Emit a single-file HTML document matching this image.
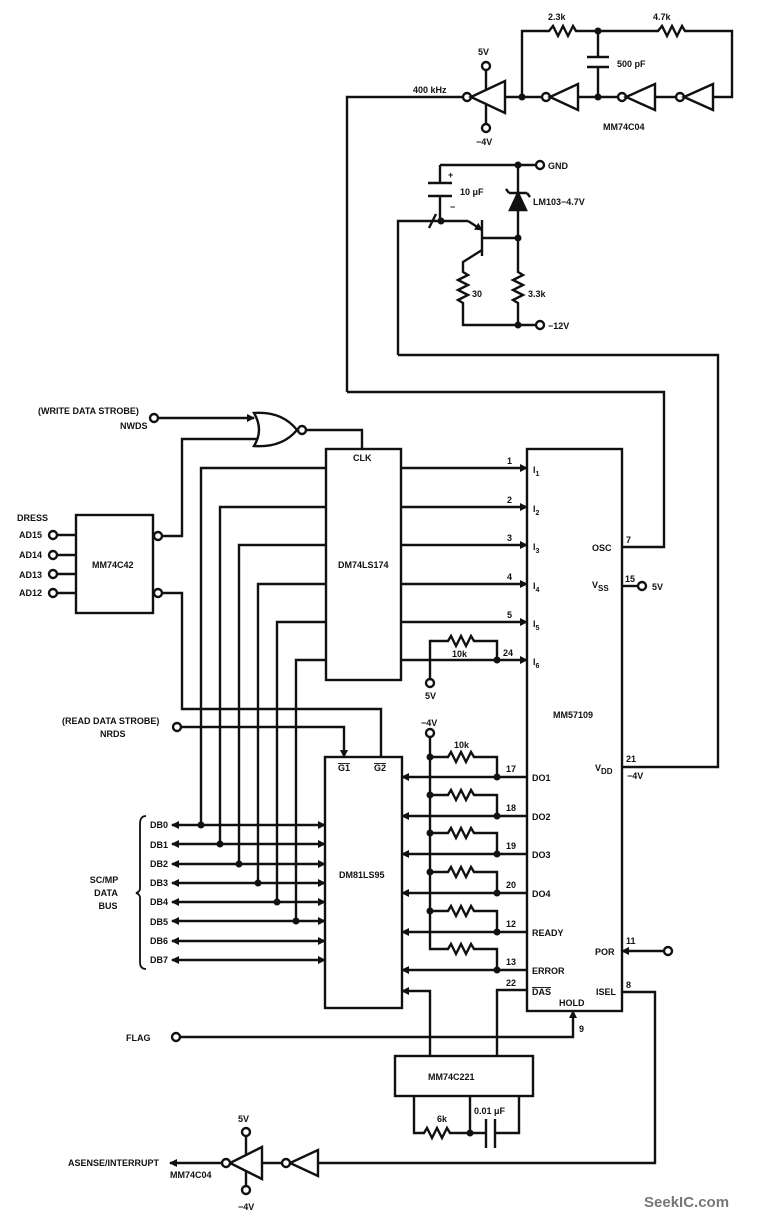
<!DOCTYPE html>
<html><head><meta charset="utf-8"><style>
html,body{margin:0;padding:0;background:#fff}
svg{display:block}
text{font-family:"Liberation Sans",sans-serif;font-weight:bold;font-size:9px;fill:#111}
</style></head><body>
<svg width="763" height="1220" viewBox="0 0 763 1220" xmlns="http://www.w3.org/2000/svg">
<defs>
<marker id="ar" markerWidth="8" markerHeight="8" refX="7" refY="4" orient="auto-start-reverse" markerUnits="userSpaceOnUse"><path d="M0,0 L8,4 L0,8 z" fill="#111"/></marker>
</defs>
<g stroke="#111" stroke-width="2.4" fill="none" stroke-linejoin="miter">
<rect x="527" y="449" width="95" height="562"/>
<rect x="326" y="449" width="75" height="231"/>
<rect x="325" y="757" width="77" height="251"/>
<rect x="76" y="515" width="77" height="98"/>
<rect x="395" y="1056" width="138" height="40"/>

<path d="M347 392 V97 H463"/>
<circle cx="467" cy="97" r="4" fill="#fff"/>
<path d="M471 97 L505 81 V113 Z"/>
<path d="M486 89 V70 M486 105 V124"/>
<circle cx="486" cy="66" r="4" fill="#fff"/><circle cx="486" cy="128" r="4" fill="#fff"/>
<path d="M505 97 H542"/>
<circle cx="546" cy="97" r="4" fill="#fff"/>
<path d="M550 97 L578 84 V110 Z"/>
<path d="M578 97 H618"/>
<circle cx="622" cy="97" r="4" fill="#fff"/>
<path d="M626 97 L655 84 V110 Z"/>
<path d="M655 97 H676"/>
<circle cx="680" cy="97" r="4" fill="#fff"/>
<path d="M684 97 L713 84 V110 Z"/>
<path d="M713 97 H732 V31 H685 l-3 -5 l-5 10 l-5 -10 l-5 10 l-5 -10 l-4 5 H576 l-3 -5 l-5 10 l-5 -10 l-5 10 l-5 -10 l-4 5 H522 V97"/>
<path d="M598 31 V57 M587 57 H609 M587 67 H609 M598 67 V97"/>

<path d="M440 165 H536"/>
<circle cx="540" cy="165" r="4" fill="#fff"/>
<path d="M440 165 V183 M428 183 H452 M428 196 H452 M440 196 V221"/>
<path d="M398 355 V221 H468"/>
<path d="M429 228 L436 214"/>
<path d="M468 221 L482 230" marker-end="url(#ar)"/>
<path d="M482 220 V256 M482 238 H518 M482 250 L463 262 V272 l5 3 l-10 5 l10 5 l-10 5 l10 5 l-10 5 l5 3 V325 H536"/>
<circle cx="540" cy="325" r="4" fill="#fff"/>
<path d="M518 165 V193 M509 193 H527 M509 193 l-3 -4 M527 193 l3 4 M518 210 V272 l5 3 l-10 5 l10 5 l-10 5 l10 5 l-10 5 l5 3 V325"/>
<path d="M518 193 L510 210 H526 Z" fill="#111"/>
<path d="M398 355 H718 V767 H622"/>
<path d="M347 392 H664 V547 H622"/>
<path d="M622 586 H638"/>
<circle cx="642" cy="586" r="4" fill="#fff"/>

<path d="M158 418 H254" marker-end="url(#ar)"/>
<path d="M254 413 Q282 411 297 430 Q282 448 254 446 Q264 430 254 413 Z"/>
<circle cx="302" cy="430" r="4" fill="#fff"/>
<path d="M306 430 H362 V449"/>
<path d="M163 536 H182 V439 H258"/>
<circle cx="158" cy="536" r="4" fill="#fff"/>
<circle cx="154" cy="418" r="4" fill="#fff"/>
<circle cx="158" cy="593" r="4" fill="#fff"/>
<path d="M162 593 H182 V709 H381 V757"/>
<path d="M181 727 H344 V757" marker-end="url(#ar)"/>
<circle cx="177" cy="727" r="4" fill="#fff"/>

<path d="M56 535 H76 M56 555 H76 M56 574 H76 M56 593 H76"/>
<circle cx="53" cy="535" r="4" fill="#fff"/><circle cx="53" cy="555" r="4" fill="#fff"/><circle cx="53" cy="574" r="4" fill="#fff"/><circle cx="53" cy="593" r="4" fill="#fff"/>

<path d="M326 468 H201 V825 M326 507 H220 V844 M326 545 H239 V864 M326 584 H258 V883 M326 622 H277 V902 M326 660 H296 V921"/>
<path d="M172 825 H325" marker-start="url(#ar)" marker-end="url(#ar)"/>
<path d="M172 844 H325" marker-start="url(#ar)" marker-end="url(#ar)"/>
<path d="M172 864 H325" marker-start="url(#ar)" marker-end="url(#ar)"/>
<path d="M172 883 H325" marker-start="url(#ar)" marker-end="url(#ar)"/>
<path d="M172 902 H325" marker-start="url(#ar)" marker-end="url(#ar)"/>
<path d="M172 921 H325" marker-start="url(#ar)" marker-end="url(#ar)"/>
<path d="M172 941 H325" marker-start="url(#ar)" marker-end="url(#ar)"/>
<path d="M172 960 H325" marker-start="url(#ar)" marker-end="url(#ar)"/>
<path d="M146 816 Q140 816 140 824 V888 Q140 892 136 893 Q140 894 140 898 V962 Q140 969 146 969" stroke-width="1.8"/>

<path d="M401 468 H527" marker-end="url(#ar)"/>
<path d="M401 507 H527" marker-end="url(#ar)"/>
<path d="M401 545 H527" marker-end="url(#ar)"/>
<path d="M401 584 H527" marker-end="url(#ar)"/>
<path d="M401 622 H527" marker-end="url(#ar)"/>
<path d="M401 660 H527" marker-end="url(#ar)"/>
<path d="M430 679 V641 H448 l3 -5 l5 10 l5 -10 l5 10 l5 -10 l3 5 H497 V660"/>
<circle cx="430" cy="683" r="4" fill="#fff"/>

<circle cx="430" cy="733" r="4" fill="#fff"/>
<path d="M430 737 V949 H448 l3 -5 l5 10 l5 -10 l5 10 l5 -10 l3 5 H497 V970"/>
<path d="M430 757 H448 l3 -5 l5 10 l5 -10 l5 10 l5 -10 l3 5 H497 V777"/>
<path d="M430 795 H448 l3 -5 l5 10 l5 -10 l5 10 l5 -10 l3 5 H497 V816"/>
<path d="M430 833 H448 l3 -5 l5 10 l5 -10 l5 10 l5 -10 l3 5 H497 V854"/>
<path d="M430 872 H448 l3 -5 l5 10 l5 -10 l5 10 l5 -10 l3 5 H497 V893"/>
<path d="M430 911 H448 l3 -5 l5 10 l5 -10 l5 10 l5 -10 l3 5 H497 V932"/>
<path d="M527 777 H402" marker-end="url(#ar)"/>
<path d="M527 816 H402" marker-end="url(#ar)"/>
<path d="M527 854 H402" marker-end="url(#ar)"/>
<path d="M527 893 H402" marker-end="url(#ar)"/>
<path d="M527 932 H402" marker-end="url(#ar)"/>
<path d="M527 970 H402" marker-end="url(#ar)"/>
<path d="M430 1056 V991 H402" marker-end="url(#ar)"/>
<path d="M527 990 H497 V1056"/>

<path d="M664 951 H622" marker-end="url(#ar)"/>
<circle cx="668" cy="951" r="4" fill="#fff"/>
<circle cx="176" cy="1037" r="4" fill="#fff"/>
<path d="M180 1037 H573 V1011" marker-end="url(#ar)"/>
<path d="M622 992 H655 V1163 H318"/>
<path d="M318 1150 V1176 L290 1163 Z"/>
<circle cx="286" cy="1163" r="4" fill="#fff"/>
<path d="M282 1163 H262"/>
<path d="M262 1147 V1179 L230 1163 Z"/>
<circle cx="226" cy="1163" r="4" fill="#fff"/>
<path d="M222 1163 H170" marker-end="url(#ar)"/>
<path d="M246 1155 V1136 M246 1171 V1186"/>
<circle cx="246" cy="1132" r="4" fill="#fff"/><circle cx="246" cy="1190" r="4" fill="#fff"/>

<path d="M414 1096 V1133 H424 l3 -5 l5 10 l5 -10 l5 10 l5 -10 l3 5 H486 M470 1096 V1133 M486 1119 V1148 M495 1119 V1148 M495 1133 H519 V1096"/>
</g>

<g fill="#111">
<circle cx="522" cy="97" r="3.5"/><circle cx="598" cy="97" r="3.5"/><circle cx="598" cy="31" r="3.5"/>
<circle cx="518" cy="165" r="3.5"/><circle cx="441" cy="221" r="3.5"/><circle cx="518" cy="238" r="3.5"/><circle cx="518" cy="325" r="3.5"/>
<circle cx="201" cy="825" r="3.5"/><circle cx="220" cy="844" r="3.5"/><circle cx="239" cy="864" r="3.5"/><circle cx="258" cy="883" r="3.5"/><circle cx="277" cy="902" r="3.5"/><circle cx="296" cy="921" r="3.5"/>
<circle cx="497" cy="660" r="3.5"/>
<circle cx="430" cy="757" r="3.5"/><circle cx="430" cy="795" r="3.5"/><circle cx="430" cy="833" r="3.5"/><circle cx="430" cy="872" r="3.5"/><circle cx="430" cy="911" r="3.5"/>
<circle cx="497" cy="777" r="3.5"/><circle cx="497" cy="816" r="3.5"/><circle cx="497" cy="854" r="3.5"/><circle cx="497" cy="893" r="3.5"/><circle cx="497" cy="932" r="3.5"/><circle cx="497" cy="970" r="3.5"/>
<circle cx="470" cy="1133" r="3.5"/>
</g>

<text x="548" y="20">2.3k</text>
<text x="653" y="20">4.7k</text>
<text x="617" y="67">500 pF</text>
<text x="478" y="55">5V</text>
<text x="476" y="145">−4V</text>
<text x="413" y="93">400 kHz</text>
<text x="603" y="130">MM74C04</text>
<text x="548" y="169">GND</text>
<text x="448" y="178">+</text>
<text x="460" y="195">10 μF</text>
<text x="450" y="210">−</text>
<text x="533" y="205">LM103−4.7V</text>
<text x="472" y="297">30</text>
<text x="528" y="297">3.3k</text>
<text x="548" y="329">−12V</text>

<text x="38" y="414">(WRITE DATA STROBE)</text>
<text x="120" y="429">NWDS</text>
<text x="17" y="521">DRESS</text>
<text x="19" y="538">AD15</text>
<text x="19" y="558">AD14</text>
<text x="19" y="578">AD13</text>
<text x="19" y="596">AD12</text>
<text x="92" y="568">MM74C42</text>
<text x="353" y="461">CLK</text>
<text x="338" y="568">DM74LS174</text>
<text x="62" y="724">(READ DATA STROBE)</text>
<text x="100" y="737">NRDS</text>
<text x="338" y="771" text-decoration="overline">G1</text>
<text x="374" y="771" text-decoration="overline">G2</text>
<text x="339" y="878">DM81LS95</text>
<text x="150" y="828">DB0</text><text x="150" y="848">DB1</text><text x="150" y="867">DB2</text><text x="150" y="886">DB3</text><text x="150" y="905">DB4</text><text x="150" y="925">DB5</text><text x="150" y="944">DB6</text><text x="150" y="963">DB7</text>
<text x="104" y="883" text-anchor="middle">SC/MP</text>
<text x="106" y="896" text-anchor="middle">DATA</text>
<text x="108" y="909" text-anchor="middle">BUS</text>

<text x="507" y="464">1</text><text x="507" y="503">2</text><text x="507" y="541">3</text><text x="507" y="580">4</text><text x="507" y="618">5</text><text x="503" y="656">24</text>
<text x="533" y="473">I<tspan font-size="7" dy="3">1</tspan></text>
<text x="533" y="512">I<tspan font-size="7" dy="3">2</tspan></text>
<text x="533" y="550">I<tspan font-size="7" dy="3">3</tspan></text>
<text x="533" y="589">I<tspan font-size="7" dy="3">4</tspan></text>
<text x="533" y="627">I<tspan font-size="7" dy="3">5</tspan></text>
<text x="533" y="665">I<tspan font-size="7" dy="3">6</tspan></text>
<text x="452" y="657">10k</text>
<text x="425" y="699">5V</text>
<text x="592" y="551">OSC</text>
<text x="626" y="543">7</text>
<text x="592" y="588">V<tspan font-size="8" dy="3">SS</tspan></text>
<text x="625" y="582">15</text>
<text x="652" y="590">5V</text>
<text x="553" y="718">MM57109</text>
<text x="595" y="771">V<tspan font-size="8" dy="3">DD</tspan></text>
<text x="626" y="762">21</text>
<text x="627" y="779">−4V</text>
<text x="421" y="726">−4V</text>
<text x="454" y="748">10k</text>
<text x="506" y="772">17</text><text x="506" y="811">18</text><text x="506" y="849">19</text><text x="506" y="888">20</text><text x="506" y="927">12</text><text x="506" y="965">13</text><text x="506" y="986">22</text>
<text x="532" y="781">DO1</text><text x="532" y="820">DO2</text><text x="532" y="858">DO3</text><text x="532" y="897">DO4</text><text x="532" y="936">READY</text><text x="532" y="974">ERROR</text>
<text x="532" y="995" text-decoration="overline">DAS</text>
<text x="559" y="1006">HOLD</text>
<text x="595" y="955">POR</text>
<text x="626" y="944">11</text>
<text x="596" y="995">ISEL</text>
<text x="626" y="988">8</text>
<text x="579" y="1032">9</text>
<text x="126" y="1041">FLAG</text>
<text x="428" y="1080">MM74C221</text>
<text x="437" y="1122">6k</text>
<text x="474" y="1114">0.01 μF</text>
<text x="238" y="1122">5V</text>
<text x="238" y="1210">−4V</text>
<text x="68" y="1166">ASENSE/INTERRUPT</text>
<text x="170" y="1178">MM74C04</text>
<text x="644" y="1207" style="font-size:15px;fill:#777">SeekIC.com</text>
</svg>
</body></html>
